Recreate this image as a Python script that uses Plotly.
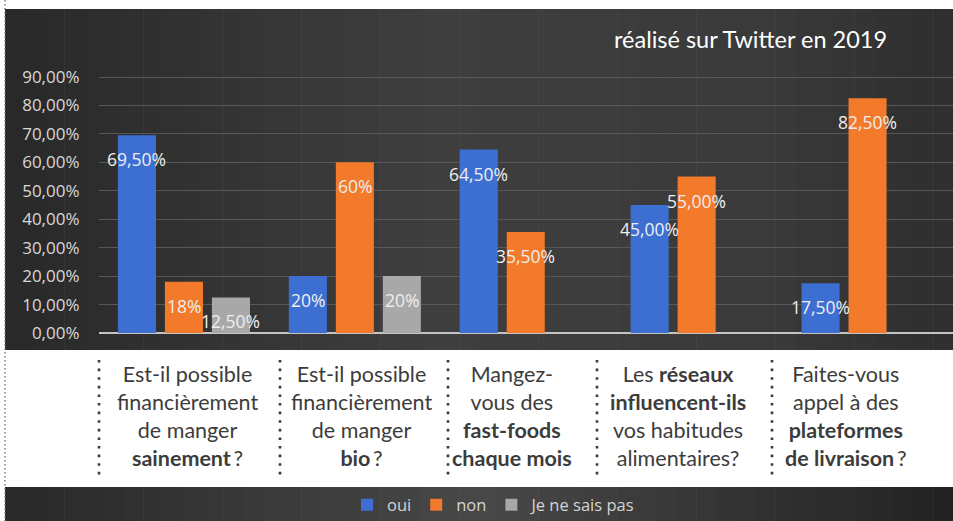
import plotly.graph_objects as go

# ---------------- data ----------------
categories = ["Q1", "Q2", "Q3", "Q4", "Q5"]
category_labels = [
    "Est-il possible<br>financièrement<br>de manger<br><b>sainement</b>\u2009?",
    "Est-il possible<br>financièrement<br>de manger<br><b>bio</b>\u2009?",
    "Mangez-<br>vous des<br><b>fast-foods</b><br><b>chaque mois</b>",
    "Les <b>réseaux</b><br><b>influencent-ils</b><br>vos habitudes<br>alimentaires?",
    "Faites-vous<br>appel à des<br><b>plateformes</b><br><b>de livraison</b>\u2009?",
]
series_names = ["oui", "non", "Je ne sais pas"]
oui = [69.5, 20, 64.5, 45, 17.5]
non = [18, 60, 35.5, 55, 82.5]
nsp = [12.5, 20, None, None, None]
oui_labels = ["69,50%", "20%", "64,50%", "45,00%", "17,50%"]
non_labels = ["18%", "60%", "35,50%", "55,00%", "82,50%"]
nsp_labels = ["12,50%", "20%", None, None, None]
y_ticks = [0, 10, 20, 30, 40, 50, 60, 70, 80, 90]
y_tick_labels = ["0,00%", "10,00%", "20,00%", "30,00%", "40,00%",
                 "50,00%", "60,00%", "70,00%", "80,00%", "90,00%"]
title_text = "réalisé sur Twitter en 2019"

# ---------------- style / layout constants ----------------
W, H = 953, 521
colors = ["#3d6fd3", "#f27a2a", "#a8a8a8"]
BARGAP, BARGROUPGAP = 0.175, 0.19
PLOT_L, PLOT_R = 98.5, 953.0
PLOT_B, PLOT_T = 333.0, 62.8
Y_MAX = 95
label_xshift = [4, 7, -14, -19, -22]


def px(x):
    return x / W


def py(y):
    return 1 - y / H


fig = go.Figure()
values = [oui, non, nsp]
for name, vals, col in zip(series_names, values, colors):
    fig.add_trace(go.Bar(
        x=categories, y=vals, name=name, marker=dict(color=col, line=dict(width=0)),
    ))

shapes = []


def grad_strips(x0, x1, y0, y1, stops, n=48):
    out = []
    w = (x1 - x0) / n
    for i in range(n):
        t = (i + 0.5) / n
        for j in range(len(stops) - 1):
            if stops[j][0] <= t <= stops[j + 1][0]:
                a, b = stops[j], stops[j + 1]
                f = (t - a[0]) / (b[0] - a[0])
                v = int(round(a[1] + (b[1] - a[1]) * f))
                break
        out.append(dict(type="rect", xref="paper", yref="paper", layer="below",
                        x0=px(x0 + i * w), x1=px(min(x0 + (i + 1) * w + 0.6, W)),
                        y0=py(y1), y1=py(y0),
                        fillcolor=f"rgb({v},{v},{v})", line=dict(width=0)))
    return out


# dark upper panel and bottom band
shapes += grad_strips(5, 953, 9, 350, [(0, 40), (0.45, 62), (0.8, 58), (1, 46)])
shapes += grad_strips(5, 953, 487, 521, [(0, 40), (0.5, 72), (1, 34)])

# dotted separators in the white label strip
for sx in [99, 280, 448, 597, 772]:
    shapes.append(dict(type="line", xref="paper", yref="paper", layer="above",
                       x0=px(sx), x1=px(sx), y0=py(360), y1=py(480),
                       line=dict(color="#3a3a3a", width=2.6, dash="2.6px,6px")))
# left dotted edge
shapes.append(dict(type="line", xref="paper", yref="paper", layer="above",
                   x0=px(5), x1=px(5), y0=py(0), y1=py(521),
                   line=dict(color="#777777", width=1.4, dash="1.4px,2.6px")))

annotations = []
# data labels
group_px = (PLOT_R - PLOT_L) / len(categories)
slot_px = group_px * (1 - BARGAP) / 3
for si, (vals, labs) in enumerate(zip(values, [oui_labels, non_labels, nsp_labels])):
    for c, v, lab in zip(categories, vals, labs):
        if v is None or lab is None:
            continue
        annotations.append(dict(
            x=c, y=v, xref="x", yref="y", text=lab, showarrow=False,
            xshift=(si - 1) * slot_px, yshift=-24,
            font=dict(family="Open Sans", size=17.5, color="#eeeeee"),
        ))
# category labels
for c, lab, sh in zip(categories, category_labels, label_xshift):
    annotations.append(dict(
        x=c, y=py(416), xref="x", yref="paper", text=lab, showarrow=False,
        xshift=sh, yanchor="middle", align="center",
        font=dict(family="Lato", size=21.5, color="#3c3c3c"),
    ))
# title
annotations.append(dict(
    x=px(750), y=py(39), xref="paper", yref="paper", text=title_text, showarrow=False,
    xanchor="center", yanchor="middle",
    font=dict(family="Lato", size=23.5, color="#ffffff"),
))

fig.update_layout(
    width=W, height=H, autosize=False,
    margin=dict(l=0, r=0, t=0, b=0, pad=0, autoexpand=False),
    paper_bgcolor="#ffffff", plot_bgcolor="rgba(0,0,0,0)",
    barmode="group", bargap=BARGAP, bargroupgap=BARGROUPGAP,
    shapes=shapes, annotations=annotations,
    showlegend=True,
    legend=dict(orientation="h", x=px(494), xanchor="center", y=py(505), yanchor="middle",
                bgcolor="rgba(0,0,0,0)",
                font=dict(family="Open Sans", size=16.5, color="#d4d4d4"),
                traceorder="normal"),
    xaxis=dict(domain=[px(PLOT_L), px(PLOT_R)], showticklabels=False, ticks="",
               showgrid=False, zeroline=False, showline=False, fixedrange=True,
               automargin=False),
    yaxis=dict(domain=[py(PLOT_B), py(PLOT_T)], range=[0, Y_MAX],
               tickvals=y_ticks, ticktext=y_tick_labels,
               tickfont=dict(family="Open Sans", size=17, color="#d8d8d8"),
               ticks="", ticklabelstandoff=18, automargin=False,
               showgrid=True, gridcolor="#585858", gridwidth=1,
               zeroline=True, zerolinecolor="#c4c4c4", zerolinewidth=2,
               showline=False, fixedrange=True),
)

fig.write_html(
    "out.html",
    config={"displayModeBar": False},
    post_script=(
        "var s=document.createElement('style');"
        "s.textContent='html,body{margin:0!important;padding:0!important;overflow:hidden!important;}';"
        "document.head.appendChild(s);"
    ),
)
